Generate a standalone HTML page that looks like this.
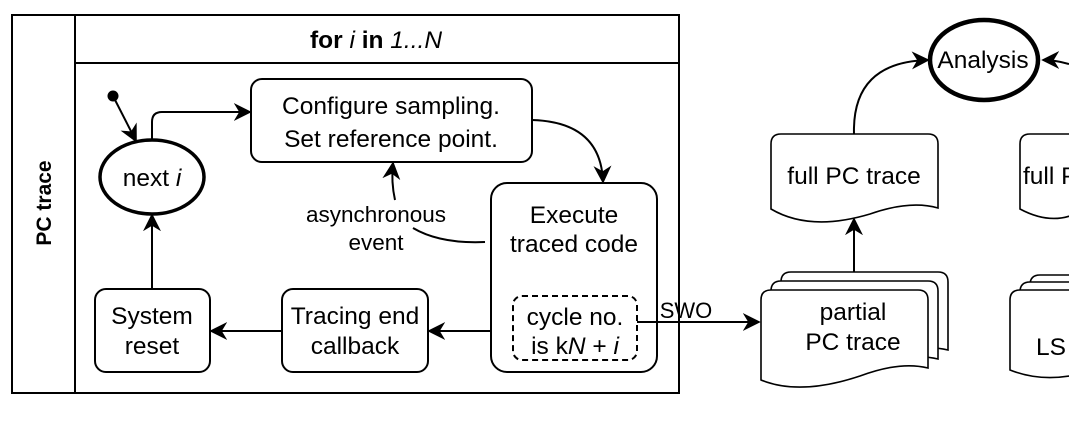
<!DOCTYPE html>
<html><head><meta charset="utf-8"><style>
body{margin:0;background:#fff}
svg{display:block;font-family:"Liberation Sans",Arial,sans-serif}
text{fill:#000}
</style></head><body>
<svg width="1069" height="428" viewBox="0 0 1069 428">
<defs>
<marker id="ahb" viewBox="0 0 10 10" refX="9" refY="5" markerWidth="18" markerHeight="18" markerUnits="userSpaceOnUse" orient="auto"><path d="M0,0 L10,5 L0,10 L3,5 Z" fill="#000"/></marker>
</defs>
<g fill="none" stroke="#000" stroke-width="2">
<rect x="12" y="15" width="667" height="378"/>
<line x1="75" y1="15" x2="75" y2="393"/>
<line x1="75" y1="63" x2="679" y2="63"/>
<rect x="251" y="79" width="281" height="83" rx="11"/>
<rect x="491" y="183" width="166" height="189" rx="16"/>
<rect x="513" y="296" width="124" height="64" rx="9" stroke-dasharray="6,4"/>
<rect x="282" y="289" width="146" height="83" rx="11"/>
<rect x="95" y="289" width="115" height="83" rx="11"/>
<ellipse cx="152" cy="177" rx="52" ry="37" stroke-width="3.5"/>
<ellipse cx="984" cy="60" rx="54" ry="40" stroke-width="4.5"/>
<line x1="113" y1="96" x2="136" y2="141" marker-end="url(#ahb)"/>
<path d="M152,140 V122 Q152,112 162,112 H250" marker-end="url(#ahb)"/>
<path d="M532,120 Q601,122 603,182" marker-end="url(#ahb)"/>
<path d="M485,242 Q440,244 413,228"/>
<path d="M395,200 Q391,182 393,163" marker-end="url(#ahb)"/>
<line x1="491" y1="331" x2="429" y2="331" marker-end="url(#ahb)"/>
<line x1="282" y1="331" x2="211" y2="331" marker-end="url(#ahb)"/>
<line x1="152" y1="289" x2="152" y2="215" marker-end="url(#ahb)"/>
<line x1="637" y1="322" x2="759" y2="322" marker-end="url(#ahb)"/>
<line x1="854" y1="272" x2="854" y2="219" marker-end="url(#ahb)"/>
<path d="M854,134 Q852,62 928,60" marker-end="url(#ahb)"/>
<path d="M1069,64 Q1055,60 1043,60" marker-end="url(#ahb)"/>
<g stroke-width="1.6" fill="#fff">
<path d="M781,282 Q781,272 791,272 H938 Q948,272 948,282 V350 Q920,343 880,358 Q820,378 781,362 Z"/>
<path d="M771,291 Q771,281 781,281 H928 Q938,281 938,291 V359 Q910,352 870,367 Q810,387 771,371 Z"/>
<path d="M761,300 Q761,290 771,290 H918 Q928,290 928,300 V368 Q900,361 860,376 Q800,396 761,380 Z"/>
<path d="M771,144 Q771,134 781,134 H928 Q938,134 938,144 V208 Q910,200 870,214 Q810,232 771,209 Z"/>
<path d="M1020,144 Q1020,134 1030,134 H1075 V214 Q1050,225 1020,209 Z"/>
<path d="M1030,285 Q1030,275 1040,275 H1075 V360 Q1060,360 1030,355 Z"/>
<path d="M1020,292 Q1020,282 1030,282 H1075 V368 Q1060,368 1020,362 Z"/>
<path d="M1010,300 Q1010,290 1020,290 H1075 V375 Q1040,382 1010,370 Z"/>
</g>
</g>
<circle cx="113" cy="96" r="5.5" fill="#000"/>
<g font-size="24.5" text-anchor="middle">
<text x="376" y="48" font-weight="bold">for <tspan font-style="italic" font-weight="normal">i</tspan> in <tspan font-style="italic" font-weight="normal">1...N</tspan></text>
<text transform="translate(51,203) rotate(-90)" font-weight="bold" font-size="21">PC trace</text>
<text x="152" y="186">next <tspan font-style="italic">i</tspan></text>
<text x="391" y="114">Configure sampling.</text>
<text x="391" y="147">Set reference point.</text>
<text x="574" y="223">Execute</text>
<text x="574" y="252">traced code</text>
<text x="575" y="325">cycle no.</text>
<text x="575" y="354">is k<tspan font-style="italic">N</tspan> + <tspan font-style="italic">i</tspan></text>
<text x="355" y="324">Tracing end</text>
<text x="355" y="354">callback</text>
<text x="152" y="324">System</text>
<text x="152" y="354">reset</text>
<text x="376" y="222" font-size="22.5">asynchronous</text>
<text x="376" y="250" font-size="22.5">event</text>
<text x="686" y="318" font-size="22">SWO</text>
<text x="853" y="320">partial</text>
<text x="853" y="350">PC trace</text>
<text x="854" y="184">full PC trace</text>
<text x="983" y="68">Analysis</text>
<text x="1023" y="184" text-anchor="start">full P</text>
<text x="1036" y="355" text-anchor="start">LS</text>
</g>
</svg>
</body></html>
